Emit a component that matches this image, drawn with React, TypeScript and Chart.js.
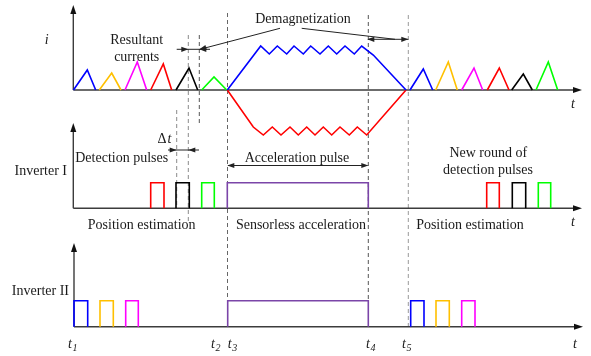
import React, { useEffect, useRef } from 'react';
import { Chart, registerables } from 'chart.js';

Chart.register(...registerables);

const W = 591;
const H = 356;

// Baselines of the three panels (vertical scale units, downward)
const panelBase = [90, 208.3, 326.7];
const axisX = [73.3, 73.3, 74];
const axisTop = [5, 123, 243];
const axisEnd = [582, 582, 583];

// Panel 1: detection current triangles (time, amplitude)
const triColors = ['#0000ff', '#ffc000', '#ff00ff', '#ff0000', '#000000', '#00ff00'];
const triStartL = [73.5, 99.3, 125, 150.7, 176, 201.7];
const triPeakTL = [87.3, 111.7, 137.3, 163.3, 189, 214];
const triEndL = [95.7, 121, 146.7, 171.7, 197.7, 226.7];
const triAmpL = [20, 17, 28, 26, 22, 13];
const triStartR = [410, 435.7, 461.7, 487.3, 511.7, 536];
const triPeakTR = [423.3, 448.3, 474, 499.3, 523.3, 548.3];
const triEndR = [432.7, 457.3, 482.7, 509, 532.3, 557.7];
const triAmpR = [21, 28, 22, 22, 16, 28];

// Panel 1: acceleration currents
const posT = [227.3, 260.7, 269.3, 277.3, 286.7, 294, 303.3, 310.7, 320, 328.3, 336.7, 345, 354.3, 361.7, 373.3, 406];
const posI = [0, 44, 36, 44, 36, 44, 36, 44, 36, 44, 36, 44, 36, 44, 35, 0];
const negT = [227.3, 253.3, 263.3, 272.3, 281, 290, 298.3, 306.7, 315, 323.3, 331.7, 340, 349.3, 357.3, 366.7, 406];
const negI = [0, -37, -45, -37, -45, -37, -45, -37, -45, -37, -45, -37, -45, -37, -45, 0];

// Panel 2: Inverter I pulses
const purple = '#7b45a8';
const inv1Start = [150.7, 176, 201.7, 227.3, 486.7, 512.3, 538.3];
const inv1End = [164, 189.3, 214.3, 368.3, 499.3, 525.7, 550.7];
const inv1Colors = ['#ff0000', '#000000', '#00ff00', purple, '#ff0000', '#000000', '#00ff00'];
const inv1Height = 25.6;

// Panel 3: Inverter II pulses
const inv2Start = [74, 100, 125.7, 227.7, 410.7, 436, 461.7];
const inv2End = [87.7, 113.3, 138.3, 368.3, 424, 449.3, 475];
const inv2Colors = ['#0000ff', '#ffc000', '#ff00ff', purple, '#0000ff', '#ffc000', '#ff00ff'];
const inv2Height = 26;

// Time markers
const tLabels = ['1', '2', '3', '4', '5'];
const tLabelX = [72, 215, 231.7, 370, 406];

// Dashed guide lines: x, top, bottom, colour
const guideX = [176.7, 188.3, 199.3, 227.5, 368.3, 408.3];
const guideTop = [110, 35, 35, 13, 15, 15];
const guideBottom = [208, 222, 125, 300, 300, 327];
const guideColor = ['#8a8a8a', '#8a8a8a', '#555555', '#666666', '#555555', '#999999'];

const FONT = '"Liberation Serif", "Times New Roman", serif';

function lineDs(pts: { x: number; y: number }[], color: string) {
  return {
    data: pts,
    borderColor: color,
    backgroundColor: color,
    showLine: true,
    pointRadius: 0,
    pointHoverRadius: 0,
    borderWidth: 1.6,
    fill: false,
    tension: 0,
    clip: false as any,
  };
}

function buildDatasets() {
  const ds: any[] = [];
  const b1 = panelBase[0];
  for (let i = 0; i < 6; i++) {
    ds.push(lineDs([{ x: triStartL[i], y: b1 }, { x: triPeakTL[i], y: b1 - triAmpL[i] }, { x: triEndL[i], y: b1 }], triColors[i]));
    ds.push(lineDs([{ x: triStartR[i], y: b1 }, { x: triPeakTR[i], y: b1 - triAmpR[i] }, { x: triEndR[i], y: b1 }], triColors[i]));
  }
  ds.push(lineDs(posT.map((t, i) => ({ x: t, y: b1 - posI[i] })), '#0000ff'));
  ds.push(lineDs(negT.map((t, i) => ({ x: t, y: b1 - negI[i] })), '#ff0000'));
  const pulse = (s: number, e: number, base: number, h: number, c: string) =>
    lineDs([{ x: s, y: base }, { x: s, y: base - h }, { x: e, y: base - h }, { x: e, y: base }], c);
  for (let i = 0; i < inv1Start.length; i++) ds.push(pulse(inv1Start[i], inv1End[i], panelBase[1], inv1Height, inv1Colors[i]));
  for (let i = 0; i < inv2Start.length; i++) ds.push(pulse(inv2Start[i], inv2End[i], panelBase[2], inv2Height, inv2Colors[i]));
  return ds;
}

function arrowHead(ctx: CanvasRenderingContext2D, tx: number, ty: number, fx: number, fy: number, len = 7, half = 2.6, color = '#222') {
  const ang = Math.atan2(ty - fy, tx - fx);
  ctx.save();
  ctx.fillStyle = color;
  ctx.beginPath();
  ctx.moveTo(tx, ty);
  ctx.lineTo(tx - len * Math.cos(ang) + half * Math.sin(ang), ty - len * Math.sin(ang) - half * Math.cos(ang));
  ctx.lineTo(tx - len * Math.cos(ang) - half * Math.sin(ang), ty - len * Math.sin(ang) + half * Math.cos(ang));
  ctx.closePath();
  ctx.fill();
  ctx.restore();
}

const overlay = {
  id: 'overlay',
  beforeDatasetsDraw(chart: any) {
    const ctx: CanvasRenderingContext2D = chart.ctx;
    const X = (v: number) => chart.scales.x.getPixelForValue(v);
    const Y = (v: number) => chart.scales.y.getPixelForValue(v);
    ctx.save();
    // dashed guides
    ctx.lineWidth = 1;
    ctx.setLineDash([4, 3]);
    for (let i = 0; i < guideX.length; i++) {
      ctx.strokeStyle = guideColor[i];
      ctx.beginPath();
      ctx.moveTo(X(guideX[i]), Y(guideTop[i]));
      ctx.lineTo(X(guideX[i]), Y(guideBottom[i]));
      ctx.stroke();
    }
    ctx.setLineDash([]);
    // axes
    const axCol = '#3c3c3c';
    ctx.strokeStyle = axCol;
    ctx.lineWidth = 1.4;
    for (let p = 0; p < 3; p++) {
      const x0 = X(axisX[p]);
      const y0 = Y(panelBase[p]);
      ctx.beginPath();
      ctx.moveTo(x0, y0);
      ctx.lineTo(x0, Y(axisTop[p]) + 6);
      ctx.moveTo(x0, y0);
      ctx.lineTo(X(axisEnd[p]) - 6, y0);
      ctx.stroke();
      arrowHead(ctx, x0, Y(axisTop[p]), x0, y0, 9, 3, '#111');
      arrowHead(ctx, X(axisEnd[p]), y0, x0, y0, 9, 3, '#111');
    }
    ctx.restore();
  },
  afterDatasetsDraw(chart: any) {
    const ctx: CanvasRenderingContext2D = chart.ctx;
    const X = (v: number) => chart.scales.x.getPixelForValue(v);
    const Y = (v: number) => chart.scales.y.getPixelForValue(v);
    ctx.save();
    const txt = '#1a1a1a';
    ctx.fillStyle = txt;
    ctx.textBaseline = 'middle';
    const text = (s: string, x: number, y: number, align: CanvasTextAlign = 'center', font = `14px ${FONT}`) => {
      ctx.font = font;
      ctx.textAlign = align;
      ctx.fillText(s, X(x), Y(y));
    };
    const ital = `italic 14px ${FONT}`;
    text('i', 46.7, 40, 'center', ital);
    for (let p = 0; p < 3; p++) text('t', [573, 573, 575][p], [104, 222, 344][p], 'center', ital);
    text('Resultant', 136.7, 40);
    text('currents', 136.7, 57);
    text('Demagnetization', 303, 19);
    // Δt
    text('Δ', 162, 139);
    text('t', 169.5, 139, 'center', ital);
    text('Detection pulses', 121.7, 158);
    text('Acceleration pulse', 297, 158);
    text('New round of', 488.3, 153.3);
    text('detection pulses', 488, 170);
    text('Inverter I', 67, 171.7, 'right');
    text('Inverter II', 69, 291.7, 'right');
    text('Position estimation', 141.7, 225);
    text('Sensorless acceleration', 301, 225);
    text('Position estimation', 470, 225);
    for (let i = 0; i < tLabels.length; i++) {
      text('t', tLabelX[i] - 2, 344, 'center', ital);
      text(tLabels[i], tLabelX[i] + 3, 348, 'center', `italic 10px ${FONT}`);
    }

    // arrows
    ctx.strokeStyle = '#222';
    ctx.lineWidth = 1;
    const seg = (x1: number, y1: number, x2: number, y2: number) => {
      ctx.beginPath();
      ctx.moveTo(X(x1), Y(y1));
      ctx.lineTo(X(x2), Y(y2));
      ctx.stroke();
    };
    // Resultant currents Δ markers (panel 1)
    seg(176.7, 49.3, 210, 49.3);
    arrowHead(ctx, X(188.3), Y(49.3), X(176), Y(49.3));
    arrowHead(ctx, X(199.3), Y(49.3), X(210), Y(49.3));
    // Demagnetization pointers
    seg(280, 28.3, 203, 48.5);
    arrowHead(ctx, X(199.3), Y(49.3), X(280), Y(28.3));
    seg(301.7, 28.3, 395, 39.3);
    seg(368.3, 39.3, 408.3, 39.3);
    arrowHead(ctx, X(367.3), Y(39.3), X(390), Y(39.3));
    arrowHead(ctx, X(408.3), Y(39.3), X(380), Y(39.3));
    // Δt arrows (panel 2)
    seg(168, 150, 199, 150);
    arrowHead(ctx, X(176.7), Y(150), X(166), Y(150));
    arrowHead(ctx, X(188.3), Y(150), X(199), Y(150));
    // Acceleration pulse arrow
    seg(228, 165.5, 367.5, 165.5);
    arrowHead(ctx, X(227.3), Y(165.5), X(260), Y(165.5));
    arrowHead(ctx, X(368.3), Y(165.5), X(330), Y(165.5));
    ctx.restore();
  },
};

export default function App() {
  const ref = useRef<HTMLCanvasElement>(null);
  useEffect(() => {
    if (!ref.current) return;
    const chart = new Chart(ref.current, {
      type: 'scatter',
      data: { datasets: buildDatasets() },
      options: {
        animation: false,
        responsive: false,
        devicePixelRatio: 1,
        events: [],
        layout: { padding: 0, autoPadding: false } as any,
        plugins: { legend: { display: false }, tooltip: { enabled: false }, title: { display: false } },
        scales: {
          x: { type: 'linear', min: 0, max: W, display: false },
          y: { type: 'linear', min: 0, max: H, reverse: true, display: false },
        },
      },
      plugins: [overlay],
    });
    return () => chart.destroy();
  }, []);
  return (
    <div style={{ position: 'absolute', left: 0, top: 0, width: W, height: H, background: '#fff' }}>
      <canvas ref={ref} width={W} height={H} style={{ width: W, height: H, display: 'block' }} />
    </div>
  );
}
